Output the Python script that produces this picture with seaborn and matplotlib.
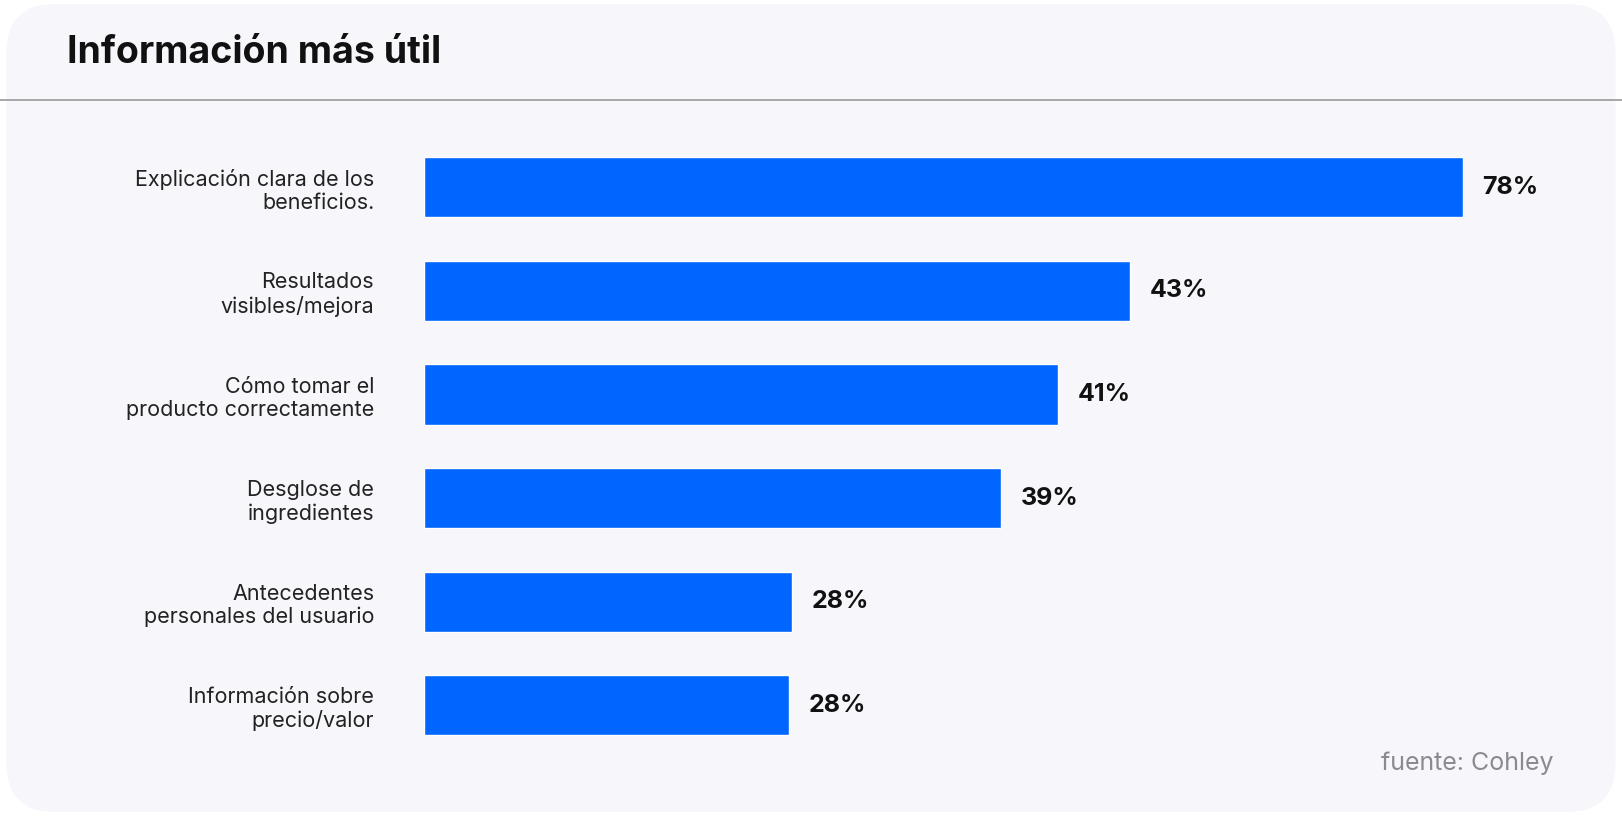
import matplotlib
matplotlib.use("Agg")
import matplotlib.pyplot as plt
import seaborn as sns
import pandas as pd
from matplotlib.patches import FancyBboxPatch

categories = ["Explicación clara de los\nbeneficios.", "Resultados\nvisibles/mejora",
              "Cómo tomar el\nproducto correctamente", "Desglose de\ningredientes",
              "Antecedentes\npersonales del usuario", "Información sobre\nprecio/valor"]
bar_lengths = [78, 53, 47.6, 43.3, 27.6, 27.4]
value_labels = ["78%", "43%", "41%", "39%", "28%", "28%"]

sns.set_theme(style="white")
plt.rcParams['font.family'] = ['Inter', 'DejaVu Sans']

fig = plt.figure(figsize=(16.22, 8.16), dpi=100)
fig.patch.set_facecolor("white")
card = FancyBboxPatch((0.004, 0.005), 0.992, 0.99, boxstyle="round,pad=0,rounding_size=0.03",
                      transform=fig.transFigure, facecolor="#f6f6fb", edgecolor="none",
                      mutation_aspect=1622/816, zorder=-10)
fig.patches.append(card)
fig.text(0.041, 0.935, "Información más útil", fontsize=27, fontweight="bold",
         color="#111111", va="center")
fig.add_artist(plt.Line2D([0, 1], [0.878, 0.878], transform=fig.transFigure,
                          color="#999999", lw=1.2))
fig.text(0.958, 0.065, "fuente: Cohley", fontsize=18, color="#8a8a90", ha="right", va="center")

ax = fig.add_axes([0.2615, 0.072, 0.6985, 0.762])
ax.set_zorder(5)
df = pd.DataFrame({"cat": categories, "val": bar_lengths})
sns.barplot(data=df, y="cat", x="val", color="#0066ff", width=0.58, ax=ax, saturation=1)
ax.set_facecolor("none")
ax.patch.set_alpha(0)
ax.set_xlim(0, 85.1)
for s in ax.spines.values():
    s.set_visible(False)
ax.set_xticks([])
ax.set_xlabel("")
ax.set_ylabel("")
ax.tick_params(axis="y", length=0, pad=36)
for t in ax.get_yticklabels():
    t.set_fontsize(15.5)
    t.set_color("#222222")
    t.set_horizontalalignment("right")
for i, (v, lab) in enumerate(zip(bar_lengths, value_labels)):
    ax.text(v + 1.5, i, lab, va="center", ha="left", fontsize=18, fontweight="bold", color="#111111")

fig.savefig("out.png", dpi=100, facecolor="white")
